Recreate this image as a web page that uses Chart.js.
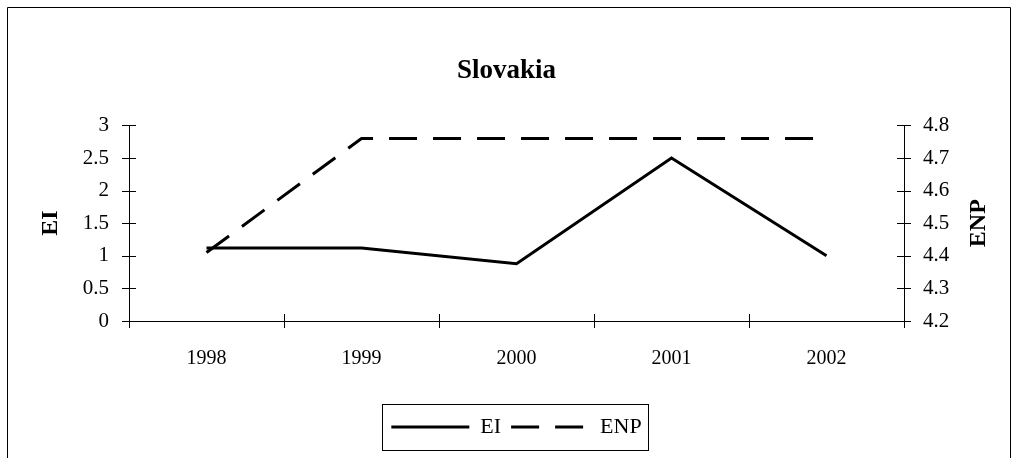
<!DOCTYPE html>
<html>
<head>
<meta charset="utf-8">
<script src="https://cdn.jsdelivr.net/npm/chart.js@4/dist/chart.umd.min.js"></script>
<style>
  html, body { margin: 0; padding: 0; background: #fff; }
  #wrap { width: 1013px; height: 458px; position: relative; }
</style>
</head>
<body>
<div id="wrap"><canvas id="c" width="1013" height="458"></canvas></div>
<script>
const categories = ['1998', '1999', '2000', '2001', '2002'];
const eiValues = [1.12, 1.12, 0.88, 2.5, 1.0];
const enpValues = [4.41, 4.76, 4.76, 4.76, 4.76];
const eiTicks = [0, 0.5, 1, 1.5, 2, 2.5, 3];
const enpTicks = [4.2, 4.3, 4.4, 4.5, 4.6, 4.7, 4.8];

const FONT = "'Liberation Serif', 'Times New Roman', serif";

const decoPlugin = {
  id: 'deco',
  afterDraw(chart) {
    const ctx = chart.ctx;
    const x = chart.scales.x, yL = chart.scales.y, yR = chart.scales.y1;
    const ca = chart.chartArea;
    ctx.save();
    ctx.strokeStyle = '#000';
    ctx.lineWidth = 1;
    yL.ticks.forEach((t, i) => {
      const p = Math.round(yL.getPixelForTick(i)) + 0.5;
      ctx.beginPath(); ctx.moveTo(ca.left - 7, p); ctx.lineTo(ca.left + 7, p); ctx.stroke();
    });
    yR.ticks.forEach((t, i) => {
      const p = Math.round(yR.getPixelForTick(i)) + 0.5;
      ctx.beginPath(); ctx.moveTo(ca.right - 7, p); ctx.lineTo(ca.right + 7, p); ctx.stroke();
    });
    for (let i = 0; i <= categories.length; i++) {
      const p = Math.round(x.getPixelForValue(i - 0.5)) + 0.5;
      ctx.beginPath(); ctx.moveTo(p, ca.bottom - 7); ctx.lineTo(p, ca.bottom + 7); ctx.stroke();
    }
    ctx.fillStyle = '#000';
    ctx.font = 'bold 24px ' + FONT;
    ctx.textAlign = 'center';
    ctx.textBaseline = 'middle';
    ctx.translate(979, (ca.top + ca.bottom) / 2);
    ctx.rotate(-Math.PI / 2);
    ctx.fillText('ENP', 0, 0);
    ctx.restore();

    const lg = chart.legend;
    if (lg && lg.legendHitBoxes && lg.legendHitBoxes.length) {
      let minX = Infinity, maxX = -Infinity, minY = Infinity, maxY = -Infinity;
      lg.legendHitBoxes.forEach(h => {
        minX = Math.min(minX, h.left); maxX = Math.max(maxX, h.left + h.width);
        minY = Math.min(minY, h.top); maxY = Math.max(maxY, h.top + h.height);
      });
      ctx.save();
      ctx.strokeStyle = '#000';
      ctx.lineWidth = 1;
      ctx.strokeRect(Math.round(minX - 9) + 0.5, Math.round(minY - 12) + 0.5,
                     Math.round(maxX - minX + 16), Math.round(maxY - minY + 24));
      ctx.restore();
    }
    ctx.save();
    ctx.strokeStyle = '#000';
    ctx.lineWidth = 1;
    ctx.beginPath();
    ctx.moveTo(7.5, 470); ctx.lineTo(7.5, 7.5); ctx.lineTo(1010.5, 7.5); ctx.lineTo(1010.5, 470);
    ctx.stroke();
    ctx.restore();
  }
};

new Chart(document.getElementById('c'), {
  type: 'line',
  data: {
    labels: categories,
    datasets: [
      {
        label: 'EI', data: eiValues, yAxisID: 'y',
        borderColor: '#000', backgroundColor: '#000', borderWidth: 3,
        pointRadius: 0, tension: 0, fill: false
      },
      {
        label: 'ENP', data: enpValues, yAxisID: 'y1',
        borderColor: '#000', backgroundColor: '#000', borderWidth: 3,
        borderDash: [28, 16], pointRadius: 0, tension: 0, fill: false
      }
    ]
  },
  options: {
    responsive: false,
    animation: false,
    devicePixelRatio: 1,
    layout: { padding: { left: 0, right: 0, top: 0, bottom: 10 } },
    plugins: {
      title: {
        display: true, text: 'Slovakia', color: '#000',
        font: { family: FONT, size: 27, weight: 'bold' },
        padding: { top: 55, bottom: 38 }
      },
      legend: {
        display: true, position: 'bottom', fullSize: false,
        labels: {
          color: '#000',
          font: { family: FONT, size: 22 },
          usePointStyle: true,
          pointStyleWidth: 78,
          padding: 10,
          generateLabels(chart) {
            return chart.data.datasets.map((ds, i) => ({
              text: ds.label,
              fillStyle: '#000',
              strokeStyle: '#000',
              lineWidth: 3,
              lineDash: ds.borderDash || [],
              lineCap: 'butt',
              pointStyle: 'line',
              hidden: false,
              datasetIndex: i
            }));
          }
        }
      },
      tooltip: { enabled: false }
    },
    scales: {
      x: {
        type: 'category',
        offset: true,
        grid: { display: false },
        border: { display: true, color: '#000', width: 1 },
        ticks: { color: '#000', font: { family: FONT, size: 20 }, padding: 18, maxRotation: 0 },
        afterFit(s) { s.height = 85; }
      },
      y: {
        position: 'left',
        min: 0, max: 3,
        afterBuildTicks(s) { s.ticks = eiTicks.map(v => ({ value: v })); },
        grid: { display: false },
        border: { display: true, color: '#000', width: 1 },
        ticks: {
          color: '#000', font: { family: FONT, size: 21 }, padding: 12,
          callback: v => String(v)
        },
        title: {
          display: true, text: 'EI', color: '#000',
          font: { family: FONT, size: 24, weight: 'bold' },
          padding: { top: 36, bottom: 0 }
        },
        afterFit(s) { s.width = 129; }
      },
      y1: {
        position: 'right',
        min: 4.2, max: 4.8,
        afterBuildTicks(s) { s.ticks = enpTicks.map(v => ({ value: v })); },
        grid: { display: false },
        border: { display: true, color: '#000', width: 1 },
        ticks: {
          color: '#000', font: { family: FONT, size: 21 }, padding: 11,
          callback: v => Number(v).toFixed(1)
        },
        afterFit(s) { s.width = 109; }
      }
    }
  },
  plugins: [decoPlugin]
});
</script>
</body>
</html>
